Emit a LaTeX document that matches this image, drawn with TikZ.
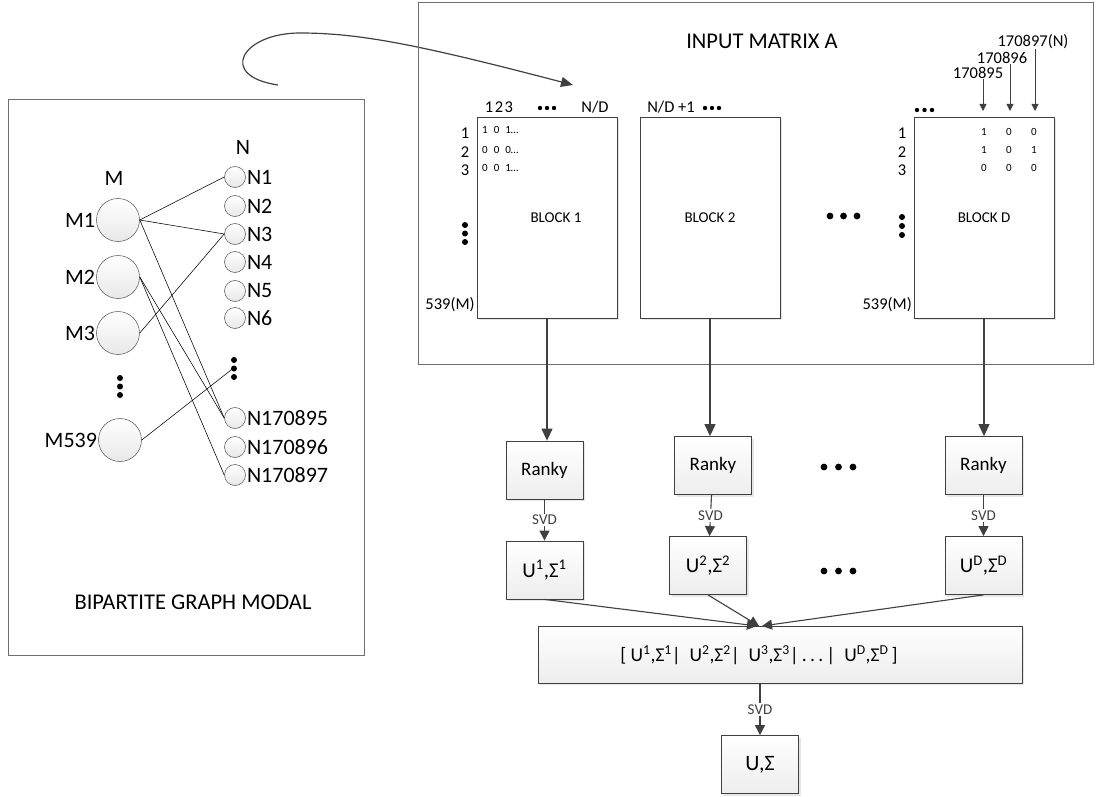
\documentclass[tikz,border=0pt]{standalone}
\usepackage{fontspec}
\setmainfont{Carlito}
\usetikzlibrary{arrows.meta,shadows,calc}
\definecolor{ink}{HTML}{404040}
\definecolor{frm}{HTML}{6E6E6E}
\begin{document}
\begin{tikzpicture}[x=1pt,y=-1pt,
  fs/.style={font=\fontsize{#1}{#1}\selectfont, inner sep=1pt},
  frame/.style={draw=frm, line width=0.9pt, inner sep=0pt},
  blockbox/.style={draw=ink, line width=0.8pt, fill=white, inner sep=0pt, minimum width=140pt, minimum height=201pt,
    drop shadow={shadow xshift=2pt, shadow yshift=-2pt, opacity=0.2}},
  gbox/.style={draw=ink, line width=0.8pt, top color=white, bottom color=gray!14, inner sep=0pt,
    drop shadow={shadow xshift=2pt, shadow yshift=-2pt, opacity=0.2}},
  small/.style={gbox, minimum width=77pt, minimum height=58pt, font=\fontsize{20}{20}\selectfont},
  mnode/.style={circle, draw=ink!80, line width=0.6pt, top color=white, bottom color=gray!18, minimum size=43pt, inner sep=0pt},
  nnode/.style={circle, draw=ink!80, line width=0.6pt, top color=white, bottom color=gray!18, minimum size=21pt, inner sep=0pt},
  link/.style={black, line width=0.55pt},
  bigarr/.style={ink, line width=1.2pt, -{Triangle[length=12pt,width=11pt]}},
  svdarr/.style={ink, line width=1.1pt, -{Triangle[length=10pt,width=10pt]}},
  colarr/.style={ink, line width=0.8pt, -{Triangle[length=7pt,width=7pt]}},
  svdlab/.style={fill=white, font=\fontsize{15}{15}\selectfont, inner sep=1.5pt},
  dotc/.style={fill=black}
]
\useasboundingbox (0,0) rectangle (1103,797);

% ---------------- left: bipartite graph ----------------
\node[frame, minimum width=356pt, minimum height=556pt] (graph) at (186,377) {};
\node[fs=22] (Mlab) at (114,178) {M};
\node[fs=22] (Nlab) at (243,147) {N};

\node[mnode, label={[fs=22]left:M1}] (M1) at (118,220) {};
\node[mnode, label={[fs=22]left:M2}] (M2) at (118,277) {};
\node[mnode, label={[fs=22]left:M3}] (M3) at (118,333) {};
\node[mnode, label={[fs=22]left:M539}] (M539) at (120,440) {};

\node[nnode, label={[fs=22]right:N1}] (N1) at (235,177) {};
\node[nnode, label={[fs=22]right:N2}] (N2) at (235,206) {};
\node[nnode, label={[fs=22]right:N3}] (N3) at (235,234) {};
\node[nnode, label={[fs=22]right:N4}] (N4) at (235,262) {};
\node[nnode, label={[fs=22]right:N5}] (N5) at (235,291) {};
\node[nnode, label={[fs=22]right:N6}] (N6) at (235,318) {};
\node[nnode, label={[fs=22]right:N170895}] (Na) at (235,418) {};
\node[nnode, label={[fs=22]right:N170896}] (Nb) at (235,447) {};
\node[nnode, label={[fs=22]right:N170897}] (Nc) at (235,475) {};

\foreach \yy in {378,386.5,395} \fill[dotc] (120,\yy) circle (3pt);
\foreach \yy in {360,368.5,377} \fill[dotc] (234,\yy) circle (3pt);
\coordinate (Ndots) at (233,368.5);

\draw[link] (M1.east) -- (N1.west);
\draw[link] (M1.east) -- (N3.west);
\draw[link] (M1.east) -- (Na.west);
\draw[link] (M2.east) -- (Na.west);
\draw[link] (M2.east) -- (Nc.west);
\draw[link] (M3.east) -- (N3.west);
\draw[link] (M539.east) -- (Ndots);

\node[fs=22.5] (gtitle) at (193,602) {BIPARTITE GRAPH MODAL};

% ---------------- curved arrow ----------------
\coordinate (cs) at (278,85);
\coordinate (ce) at (573,85);
\draw[ink, line width=1.2pt, -{Triangle[length=12pt,width=10pt]}]
  (cs) .. controls (217,76) and (242,33) .. (300,33)
       .. controls (360,33) and (420,45) .. (ce);

% ---------------- input matrix ----------------
\node[frame, minimum width=675pt, minimum height=362pt] (inp) at (755.5,183) {};
\node[fs=22.5] (ititle) at (762,41) {INPUT MATRIX A};

\node[blockbox] (B1) at (547,217.5) {};
\node[blockbox] (B2) at (710,217.5) {};
\node[blockbox] (BD) at (984,217.5) {};
\node[fs=15] (B1t) at (556,218) {BLOCK 1};
\node[fs=15] (B2t) at (710,218) {BLOCK 2};
\node[fs=15] (BDt) at (984,218) {BLOCK D};

% block 1 headers
\node[fs=16.5] (h123) at (499,107) {1\kern1.5pt 2\kern1.5pt 3};
\foreach \xx in {-7,0,7} \fill[dotc] (547+\xx,108) circle (2.2pt);
\node[fs=16.5] (hND) at (595,107) {N/D};
\node[fs=16.5] (hND1) at (671,107) {N/D +1};
\foreach \xx in {-7,0,7} \fill[dotc] (712+\xx,108) circle (2.2pt);

\node[fs=16.5] (r1) at (465,133) {1};
\node[fs=16.5] (r2) at (465,152) {2};
\node[fs=16.5] (r3) at (465,170) {3};
\foreach \yy in {225,233.5,242} \fill[dotc] (465,\yy) circle (3pt);
\node[fs=16.5] (rM) at (450,305) {539(M)};

\node[fs=11, anchor=west] (m1) at (481,130) {1\kern6pt 0\kern6pt 1…};
\node[fs=11, anchor=west] (m2) at (481,149.5) {0\kern6pt 0\kern6pt 0…};
\node[fs=11, anchor=west] (m3) at (481,168) {0\kern6pt 0\kern6pt 1…};

% dots between blocks
\foreach \xx in {830,843.5,857} \fill[dotc] (\xx,216) circle (3.4pt);

% block D headers
\foreach \xx in {917,924.5,932} \fill[dotc] (\xx,110) circle (2.2pt);
\node[fs=16.5] (d1) at (902,133) {1};
\node[fs=16.5] (d2) at (902,152) {2};
\node[fs=16.5] (d3) at (902,170) {3};
\foreach \yy in {217,226,235} \fill[dotc] (902,\yy) circle (3pt);
\node[fs=16.5, anchor=east] (dM) at (913,305) {539(M)};

\node[fs=16.5] (c1) at (978,73) {170895};
\node[fs=16.5] (c2) at (1002,58) {170896};
\node[fs=16.5] (c3) at (1033,42) {170897(N)};
\coordinate (c1t) at (983,111);
\coordinate (c2t) at (1010,111);
\coordinate (c3t) at (1035,111);
\draw[colarr] (983,79) -- (c1t);
\draw[colarr] (1010,64) -- (c2t);
\draw[colarr] (1035,49) -- (c3t);

\foreach \cx/\a/\b/\c in {984/1/1/0, 1009/0/0/0, 1034/0/1/0} {
  \node[fs=11] at (\cx,132) {\a};
  \node[fs=11] at (\cx,150) {\b};
  \node[fs=11] at (\cx,168) {\c};
}

% ---------------- processing ----------------
\node[small, font=\fontsize{19}{19}\selectfont] (R1) at (544.5,470) {Ranky};
\node[small, font=\fontsize{19}{19}\selectfont] (R2) at (713,465.5) {Ranky};
\node[small, font=\fontsize{19}{19}\selectfont] (RD) at (983.5,465.5) {Ranky};
\node[small, font=\fontsize{21}{21}\selectfont] (U1) at (544.5,570) {U\textsuperscript{1},Σ\textsuperscript{1}};
\node[small, font=\fontsize{21}{21}\selectfont] (U2) at (708,565.5) {U\textsuperscript{2},Σ\textsuperscript{2}};
\node[small, font=\fontsize{21}{21}\selectfont] (UD) at (983.5,565.5) {U\textsuperscript{D},Σ\textsuperscript{D}};

\foreach \xx in {824,838.5,853} {
  \fill[dotc] (\xx,467) circle (3.4pt);
  \fill[dotc] (\xx,571) circle (3.4pt);
}

\draw[bigarr] (B1.south) -- (B1.south |- R1.north);
\draw[bigarr] (B2.south) -- (B2.south |- R2.north);
\draw[bigarr] (BD.south) -- (BD.south |- RD.north);

\draw[svdarr] (R1) -- node[svdlab]{SVD} (U1);
\draw[svdarr] (R2) -- node[svdlab]{SVD} (U2);
\draw[svdarr] (RD) -- node[svdlab]{SVD} (UD);

\node[gbox, minimum width=484pt, minimum height=57pt] (cat) at (780,654.5) {};
\node[fs=19.5] (catt) at (759,655) {[ U\textsuperscript{1},Σ\textsuperscript{1}|\ \ U\textsuperscript{2},Σ\textsuperscript{2}|\ \ U\textsuperscript{3},Σ\textsuperscript{3}|\,.\,.\,.\,|\ \ U\textsuperscript{D},Σ\textsuperscript{D}\,]};

\coordinate (in1) at (757,626);
\coordinate (in2) at (759,626);
\coordinate (in3) at (762,626);
\draw[svdarr] (U1.south) -- (in1);
\draw[svdarr] (U2.south) -- (in2);
\draw[svdarr] (UD.south) -- (in3);

\node[small, font=\fontsize{22}{22}\selectfont] (UF) at (760,764.5) {U,Σ};
\draw[svdarr] (UF.north |- cat.south) -- node[svdlab]{SVD} (UF.north);

\end{tikzpicture}
\end{document}
